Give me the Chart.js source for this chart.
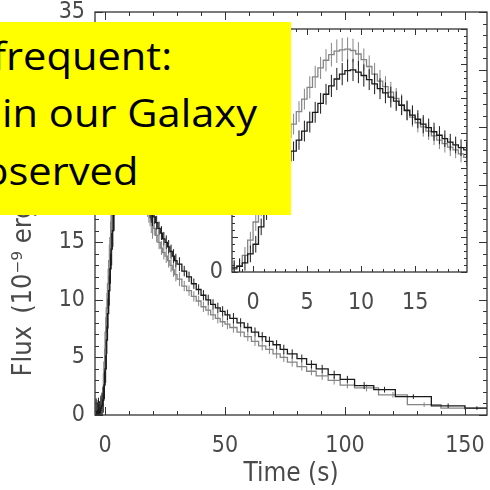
<!DOCTYPE html>
<html>
<head>
<meta charset="utf-8">
<script src="https://cdn.jsdelivr.net/npm/chart.js@4.4.1/dist/chart.umd.min.js"></script>
<style>
  html, body { margin: 0; padding: 0; background: #fff; }
  #wrap { position: relative; width: 490px; height: 490px; overflow: hidden; }
  #main { position: absolute; left: 0; top: 0; }
  #inset { position: absolute; left: 190px; top: 20px; }
  #note { position: absolute; left: 0; top: 22px; width: 291px; height: 193px; background: #ffff00; overflow: hidden; }
  #note div { position: absolute; white-space: nowrap; font-family: 'Open Sans', sans-serif; font-size: 38px; line-height: 38px; color: #000; transform-origin: 0 0; }
</style>
</head>
<body>
<div id="wrap">
  <canvas id="main" width="490" height="490"></canvas>
  <canvas id="inset" width="290" height="300"></canvas>
  <div id="note">
    <div id="l1" style="left:-8px;top:14px">frequent:</div>
    <div id="l2" style="left:2px;top:71px">in our Galaxy</div>
    <div id="l3" style="left:-42px;top:129px">observed</div>
  </div>
</div>
<script>
// bin start times (s), 0.5 s bins around the peak
const fineTime = [-4, -3.5, -3, -2.5, -2, -1.5, -1, -0.5, 0, 0.5, 1, 1.5, 2, 2.5, 3, 3.5,
  4, 4.5, 5, 5.5, 6, 6.5, 7, 7.5, 8, 8.5, 9, 9.5, 10, 10.5, 11, 11.5,
  12, 12.5, 13, 13.5, 14, 14.5, 15, 15.5, 16, 16.5, 17, 17.5, 18, 18.5, 19, 19.5];
const blackFine = [0.3, 0.1, 0.4, 0.2, 0.6, 0.8, 1.3, 2.6, 4.0, 6.5, 8.8, 10.8, 12.7, 14.4, 16.0, 17.4,
  19.0, 20.3, 21.6, 23.0, 24.3, 25.6, 26.8, 27.8, 28.5, 29.0, 29.1, 28.8, 28.3, 27.7, 27.1, 26.4,
  25.8, 25.2, 24.6, 24.0, 23.3, 22.6, 22.0, 21.3, 20.8, 20.2, 19.7, 19.2, 18.7, 18.3, 17.9, 17.6];
const blackFineErr = [1.1, 1.0, 1.1, 1.0, 1.1, 1.1, 1.1, 1.2, 1.2, 1.2, 1.3, 1.3, 1.3, 1.4, 1.4, 1.4,
  1.4, 1.5, 1.5, 1.5, 1.5, 1.5, 1.6, 1.6, 1.6, 1.6, 1.6, 1.6, 1.6, 1.5, 1.5, 1.5,
  1.5, 1.5, 1.4, 1.4, 1.4, 1.4, 1.3, 1.3, 1.3, 1.3, 1.3, 1.2, 1.2, 1.2, 1.2, 1.2];
const greyFine = [0.4, 0.2, 0.3, 0.1, 0.4, 0.9, 2.4, 4.6, 7.2, 9.3, 11.4, 13.4, 15.4, 17.4, 19.4, 21.3,
  23.1, 24.9, 26.6, 28.1, 29.4, 30.5, 31.3, 31.8, 32.0, 32.1, 31.9, 31.4, 30.6, 29.6, 28.5, 27.5,
  26.7, 25.9, 25.0, 24.1, 23.2, 22.3, 21.5, 20.9, 20.3, 19.6, 19.0, 18.5, 18.0, 17.6, 17.0, 16.5];
const greyFineErr = [1.1, 1.1, 1.0, 1.1, 1.1, 1.1, 1.2, 1.2, 1.3, 1.3, 1.3, 1.4, 1.4, 1.4, 1.5, 1.5,
  1.5, 1.5, 1.6, 1.6, 1.6, 1.6, 1.7, 1.7, 1.7, 1.7, 1.7, 1.7, 1.6, 1.6, 1.6, 1.6,
  1.5, 1.5, 1.5, 1.5, 1.4, 1.4, 1.4, 1.4, 1.3, 1.3, 1.3, 1.3, 1.3, 1.2, 1.2, 1.2];

// decay tail, wider bins
const blackTailTime = [20, 21, 22, 23, 24, 25, 26, 27, 28, 29, 30,
  32, 34, 36, 38, 40, 42, 44, 46, 48, 50, 52,
  55, 58, 61, 64, 67, 70, 73, 76, 80, 84, 88,
  93, 98, 104, 112, 121, 136, 150];
const blackTail = [17.2, 16.7, 16.2, 15.8, 15.3, 15.0, 14.6, 14.2, 13.8, 13.4, 13.1,
  12.5, 12.0, 11.4, 10.9, 10.4, 10.0, 9.6, 9.3, 9.0, 8.7, 8.4,
  8.0, 7.6, 7.2, 6.8, 6.4, 6.1, 5.7, 5.3, 4.9, 4.4, 4.0,
  3.5, 3.1, 2.55, 2.2, 1.6, 0.8, 0.6];
const blackTailErr = [0.6, 0.6, 0.6, 0.6, 0.6, 0.6, 0.6, 0.6, 0.6, 0.6, 0.6,
  0.45, 0.45, 0.45, 0.45, 0.45, 0.45, 0.45, 0.45, 0.45, 0.45, 0.45,
  0.4, 0.4, 0.4, 0.4, 0.4, 0.4, 0.4, 0.4, 0.35, 0.35, 0.35,
  0.35, 0.3, 0.3, 0.25, 0.2, 0.2, 0.15];
const greyTailTime = [20, 21, 22, 23, 24, 25, 26, 27, 28, 29, 30,
  32, 34, 36, 38, 40, 42, 44, 46, 48, 50, 52,
  55, 58, 61, 64, 67, 70, 73, 76, 80, 84, 88,
  93, 98, 104, 114, 126, 140];
const greyTail = [16.2, 15.6, 15.0, 14.5, 14.1, 13.8, 13.4, 13.0, 12.6, 12.2, 11.8,
  11.2, 10.8, 10.3, 9.9, 9.4, 9.1, 8.7, 8.4, 8.1, 7.9, 7.6,
  7.2, 6.8, 6.4, 6.0, 5.7, 5.3, 5.0, 4.6, 4.2, 3.8, 3.4,
  3.0, 2.6, 2.35, 1.75, 0.9, 0.6];
const greyTailErr = [0.6, 0.6, 0.6, 0.6, 0.6, 0.6, 0.6, 0.6, 0.6, 0.6, 0.6,
  0.45, 0.45, 0.45, 0.45, 0.45, 0.45, 0.45, 0.45, 0.45, 0.45, 0.45,
  0.4, 0.4, 0.4, 0.4, 0.4, 0.4, 0.4, 0.4, 0.35, 0.35, 0.35,
  0.35, 0.3, 0.3, 0.25, 0.2, 0.15];

const fineEnd = 20;
const tailEnd = 160;

const mainXTicks = [0, 50, 100, 150];
const mainYTicks = [0, 5, 10, 15, 20, 25, 30, 35];
const insetXTicks = [0, 5, 10, 15];
const insetYTicks = [0];

const BLACK = '#1a1a1a';
const GREY = '#858585';
const TXT = '#4a4a4a';
const FAMILY = "'DejaVu Sans Condensed', 'DejaVu Sans', sans-serif";
const labelFont = { family: FAMILY, size: 23 };
const titleFont = { family: FAMILY, size: 26 };
const yTitleFont = { family: FAMILY, size: 27 };

// histogram outline: value held until next bin start
function stepPoints(times, vals, end) {
  const pts = times.map((t, i) => ({ x: t, y: vals[i] }));
  pts.push({ x: end, y: vals[vals.length - 1] });
  return pts;
}

// error bars at bin centres, separated by gaps
function errPoints(times, vals, errs, end) {
  const pts = [];
  times.forEach((t, i) => {
    const next = i < times.length - 1 ? times[i + 1] : end;
    const c = (t + next) / 2;
    pts.push({ x: c, y: vals[i] - errs[i] }, { x: c, y: vals[i] + errs[i] }, { x: c, y: null });
  });
  return pts;
}

// keep the plot box where it is, no room reserved for overhanging labels
function noPad(s) {
  s.paddingLeft = 0; s.paddingRight = 0; s.paddingTop = 0; s.paddingBottom = 0;
}

const framePlugin = {
  id: 'frame',
  beforeDatasetsDraw(chart) {
    const { ctx, chartArea: a } = chart;
    ctx.save();
    ctx.fillStyle = '#fff';
    ctx.fillRect(a.left, a.top, a.width, a.height);
    ctx.restore();
  },
  afterDatasetsDraw(chart, args, o) {
    const { ctx, chartArea: a, scales } = chart;
    ctx.save();
    ctx.strokeStyle = '#333';
    ctx.lineWidth = 1.3;
    ctx.strokeRect(a.left, a.top, a.width, a.height);
    ctx.lineWidth = 1;
    ctx.beginPath();
    const marks = (scale, minor, major, horiz) => {
      const k0 = Math.ceil(scale.min / minor), k1 = Math.floor(scale.max / minor);
      for (let k = k0; k <= k1; k++) {
        const v = k * minor;
        const len = Math.abs(v / major - Math.round(v / major)) < 1e-6 ? o.major : o.minor;
        const p = Math.round(scale.getPixelForValue(v)) + 0.5;
        if (horiz) {
          ctx.moveTo(p, a.bottom); ctx.lineTo(p, a.bottom - len);
          ctx.moveTo(p, a.top); ctx.lineTo(p, a.top + len);
        } else {
          ctx.moveTo(a.left, p); ctx.lineTo(a.left + len, p);
          ctx.moveTo(a.right, p); ctx.lineTo(a.right - len, p);
        }
      }
    };
    marks(scales.x, o.xMinor, o.xMajor, true);
    marks(scales.y, o.yMinor, o.yMajor, false);
    ctx.stroke();
    ctx.restore();
  }
};

function lineSet(data, color, width, stepped) {
  return { data, borderColor: color, borderWidth: width, stepped, pointRadius: 0, tension: 0, spanGaps: false, fill: false };
}

const blackTimes = fineTime.concat(blackTailTime);
const blackVals = blackFine.concat(blackTail);
const blackErrs = blackFineErr.concat(blackTailErr);
const greyTimes = fineTime.concat(greyTailTime);
const greyVals = greyFine.concat(greyTail);
const greyErrs = greyFineErr.concat(greyTailErr);

new Chart(document.getElementById('main'), {
  type: 'line',
  data: {
    datasets: [
      lineSet(stepPoints(blackTimes, blackVals, tailEnd), BLACK, 1.3, true),
      lineSet(errPoints(blackTimes, blackVals, blackErrs, tailEnd), BLACK, 1, false),
      lineSet(stepPoints(greyTimes, greyVals, tailEnd), GREY, 1.3, true),
      lineSet(errPoints(greyTimes, greyVals, greyErrs, tailEnd), GREY, 1, false)
    ]
  },
  options: {
    responsive: false,
    animation: false,
    devicePixelRatio: 1,
    layout: { padding: { top: 12, right: 3, left: 0, bottom: 0 } },
    plugins: {
      legend: { display: false },
      tooltip: { enabled: false },
      frame: { xMinor: 10, xMajor: 50, yMinor: 1, yMajor: 5, major: 8, minor: 4 }
    },
    scales: {
      x: {
        type: 'linear', min: -4.2, max: 159.2,
        afterFit(s) { s.height = 75; noPad(s); },
        afterBuildTicks(s) { s.ticks = mainXTicks.map(v => ({ value: v })); },
        grid: { display: false, drawTicks: false },
        border: { display: false },
        ticks: { padding: 17, font: labelFont, color: TXT, maxRotation: 0, autoSkip: false },
        title: { display: true, text: 'Time (s)', font: titleFont, color: TXT, padding: 0 }
      },
      y: {
        type: 'linear', min: 0, max: 35,
        afterFit(s) { s.width = 95; noPad(s); },
        afterBuildTicks(s) { s.ticks = mainYTicks.map(v => ({ value: v })); },
        grid: { display: false, drawTicks: false },
        border: { display: false },
        ticks: { padding: 10, font: labelFont, color: TXT, autoSkip: false },
        title: { display: true, text: 'Flux\u2002(10⁻⁹ erg\u2003cm⁻²\u2003s⁻¹)', font: yTitleFont, color: TXT, padding: { top: 8, bottom: 0 } }
      }
    }
  },
  plugins: [framePlugin]
});

new Chart(document.getElementById('inset'), {
  type: 'line',
  data: {
    datasets: [
      lineSet(stepPoints(fineTime, blackFine, fineEnd), BLACK, 1.3, true),
      lineSet(errPoints(fineTime, blackFine, blackFineErr, fineEnd), BLACK, 1, false),
      lineSet(stepPoints(fineTime, greyFine, fineEnd), GREY, 1.3, true),
      lineSet(errPoints(fineTime, greyFine, greyFineErr, fineEnd), GREY, 1, false)
    ]
  },
  options: {
    responsive: false,
    animation: false,
    devicePixelRatio: 1,
    layout: { padding: { top: 9, right: 13, left: 0, bottom: 0 } },
    plugins: {
      legend: { display: false },
      tooltip: { enabled: false },
      frame: { xMinor: 1, xMajor: 5, yMinor: 1, yMajor: 5, major: 6, minor: 3 }
    },
    scales: {
      x: {
        type: 'linear', min: -1.95, max: 19.8,
        afterFit(s) { s.height = 48; noPad(s); },
        afterBuildTicks(s) { s.ticks = insetXTicks.map(v => ({ value: v })); },
        grid: { display: false, drawTicks: false },
        border: { display: false },
        ticks: { padding: 17, font: labelFont, color: TXT, maxRotation: 0, autoSkip: false }
      },
      y: {
        type: 'linear', min: 0, max: 35,
        afterFit(s) { s.width = 42; noPad(s); },
        afterBuildTicks(s) { s.ticks = insetYTicks.map(v => ({ value: v })); },
        grid: { display: false, drawTicks: false },
        border: { display: false },
        ticks: { padding: 9, font: labelFont, color: TXT, autoSkip: false }
      }
    }
  },
  plugins: [framePlugin]
});

function fitNote() {
  const lines = document.querySelectorAll('#note div');
  lines.forEach(d => { d.style.transform = 'none'; });
  const w = document.getElementById('l2').getBoundingClientRect().width;
  const s = 255 / w;
  lines.forEach(d => { d.style.transform = 'scaleX(' + s + ')'; });
}
fitNote();
document.fonts.ready.then(fitNote);
</script>
</body>
</html>
